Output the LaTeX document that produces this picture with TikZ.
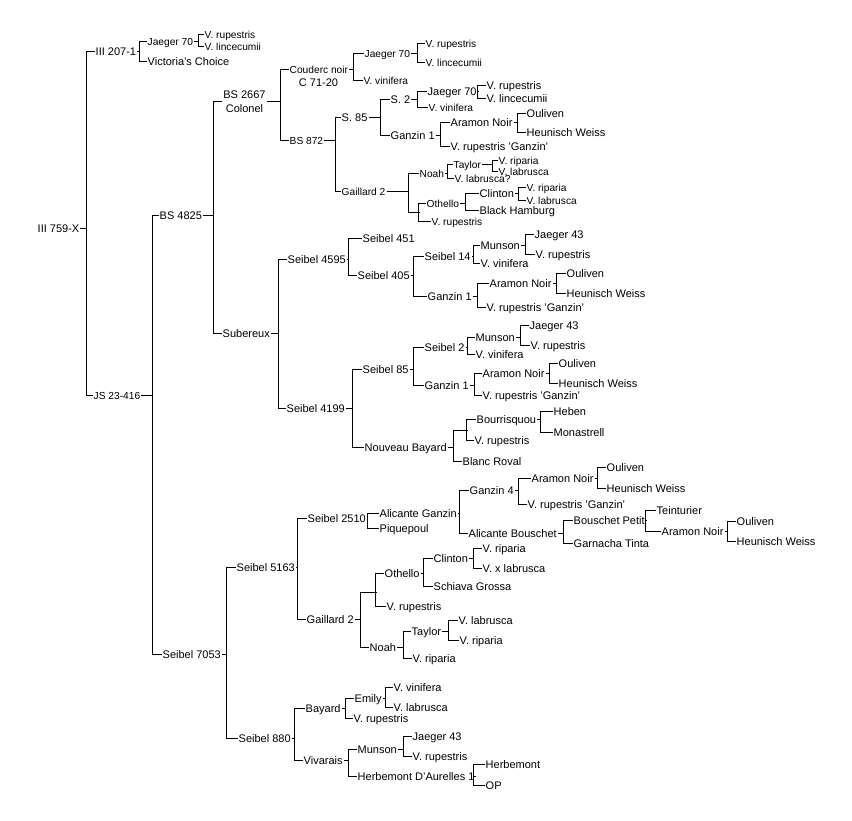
\documentclass[tikz,border=0pt]{standalone}
\usepackage{fontspec}
\setmainfont{Liberation Sans}
\usetikzlibrary{fit}
\newcommand\brk[4]{%
  \coordinate (tmpx) at (#2,0);
  \draw[ln] (#1.east) -- (#1.east -| tmpx);
  \draw[ln] (#3.west) -| (tmpx |- #1.east) |- (#4.west);
}
\tikzset{
  nn/.style={anchor=west, inner xsep=1pt, inner ysep=0pt, font=\fontsize{11}{13}\selectfont, text height=8pt, text depth=0pt},
  sm/.style={nn, font=\fontsize{10.2}{12}\selectfont, text height=7pt},
  jn/.style={inner sep=0pt, minimum size=0pt},
  ln/.style={line width=1pt, black},
}
\begin{document}
\begin{tikzpicture}[x=1pt,y=-1pt]
\fill[white] (0,0) rectangle (852,820);
\useasboundingbox (0,0) rectangle (852,820);
\begin{scope}[shift={(0.5,0.5)}]
% ---- root
\node[nn] (r) at (36,228) {III 759-X};
\node[nn] (a1) at (94,51) {III 207-1};
\node[sm] (a2) at (92,395) {JS 23-416};
\brk{r}{86}{a1}{a2}

\node[sm] (j1) at (146,41) {Jaeger 70};
\node[nn] (vc) at (146,61) {Victoria's Choice};
\brk{a1}{139}{j1}{vc}
\node[sm] (j1a) at (203,34) {V. rupestris};
\node[sm] (j1b) at (203,46) {V. lincecumii};
\brk{j1}{198}{j1a}{j1b}

\node[nn] (b4825) at (158,215) {BS 4825};
\node[nn] (s7053) at (161,654) {Seibel 7053};
\brk{a2}{152}{b4825}{s7053}

% ---- BS 4825
\node[nn,anchor=center] (bs2667a) at (244,94) {BS 2667};
\node[nn,anchor=center] (colonel) at (244,108) {Colonel};
\node[fit=(bs2667a)(colonel), inner sep=0pt] (bsc) {};
\node[nn] (sub) at (221,333) {Subereux};
\brk{b4825}{213}{bsc}{sub}

\node[sm] (cn) at (288,69) {Couderc noir};
\node[nn,anchor=center] (c7120) at (318,82) {C 71-20};
\node[sm] (bs872) at (288,140) {BS 872};
\brk{bsc}{280}{cn}{bs872}

\node[sm] (j2) at (363,53) {Jaeger 70};
\node[sm] (cnv) at (362,80) {V. vinifera};
\brk{cn}{353}{j2}{cnv}
\node[sm] (j2a) at (424,43) {V. rupestris};
\node[sm] (j2b) at (424,62) {V. lincecumii};
\brk{j2}{417}{j2a}{j2b}

\node[nn] (s85) at (340,117) {S. 85};
\node[sm] (g2a) at (340,191) {Gaillard 2};
\brk{bs872}{335}{s85}{g2a}

\node[nn] (s2) at (389,99) {S. 2};
\node[nn] (gz1a) at (389,135) {Ganzin 1};
\brk{s85}{380}{s2}{gz1a}
\node[nn] (j3) at (426,91) {Jaeger 70};
\node[sm] (s2v) at (427,107) {V. vinifera};
\brk{s2}{417}{j3}{s2v}
\node[nn] (j3a) at (485,85) {V. rupestris};
\node[nn] (j3b) at (485,98) {V. lincecumii};
\brk{j3}{477}{j3a}{j3b}
\node[nn] (an1) at (449,122) {Aramon Noir};
\node[nn] (gz1av) at (449,146) {V. rupestris 'Ganzin'};
\brk{gz1a}{440}{an1}{gz1av}
\node[nn] (an1a) at (525,113) {Ouliven};
\node[nn] (an1b) at (525,132) {Heunisch Weiss};
\brk{an1}{517}{an1a}{an1b}

\node[sm] (noa1) at (418,173) {Noah};
\node[jn] (x1) at (418,212) {};
\brk{g2a}{408}{noa1}{x1}
\node[sm] (tay1) at (452,164) {Taylor};
\node[sm] (noa1v) at (453,178) {V. labrusca?};
\brk{noa1}{447}{tay1}{noa1v}
\node[sm] (tay1a) at (497,160) {V. riparia};
\node[sm] (tay1b) at (497,171) {V. labrusca};
\brk{tay1}{492}{tay1a}{tay1b}
\node[sm] (oth1) at (425,203) {Othello};
\node[sm] (x1v) at (430,221) {V. rupestris};
\brk{x1}{418}{oth1}{x1v}
\node[nn] (cl1) at (478,193) {Clinton};
\node[nn] (bh) at (478,210) {Black Hamburg};
\brk{oth1}{465}{cl1}{bh}
\node[sm] (cl1a) at (525,187) {V. riparia};
\node[sm] (cl1b) at (525,200) {V. labrusca};
\brk{cl1}{518}{cl1a}{cl1b}

% ---- Subereux
\node[nn] (s4595) at (286,259) {Seibel 4595};
\node[nn] (s4199) at (285,408) {Seibel 4199};
\brk{sub}{278}{s4595}{s4199}

\node[nn] (s451) at (361,238) {Seibel 451};
\node[nn] (s405) at (356,275) {Seibel 405};
\brk{s4595}{348}{s451}{s405}
\node[nn] (s14) at (423,256) {Seibel 14};
\node[nn] (gz1b) at (426,296) {Ganzin 1};
\brk{s405}{413}{s14}{gz1b}
\node[nn] (mu1) at (479,245) {Munson};
\node[nn] (s14v) at (479,263) {V. vinifera};
\brk{s14}{473}{mu1}{s14v}
\node[nn] (mu1a) at (533,234) {Jaeger 43};
\node[nn] (mu1b) at (534,254) {V. rupestris};
\brk{mu1}{525}{mu1a}{mu1b}
\node[nn] (an2) at (488,283) {Aramon Noir};
\node[nn] (gz1bv) at (485,307) {V. rupestris 'Ganzin'};
\brk{gz1b}{477}{an2}{gz1bv}
\node[nn] (an2a) at (565,273) {Ouliven};
\node[nn] (an2b) at (565,293) {Heunisch Weiss};
\brk{an2}{556}{an2a}{an2b}

\node[nn] (s85b) at (361,369) {Seibel 85};
\node[nn] (nb) at (363,447) {Nouveau Bayard};
\brk{s4199}{352}{s85b}{nb}
\node[nn] (s2b) at (423,347) {Seibel 2};
\node[nn] (gz1c) at (423,385) {Ganzin 1};
\brk{s85b}{413}{s2b}{gz1c}
\node[nn] (mu2) at (474,337) {Munson};
\node[nn] (s2bv) at (474,354) {V. vinifera};
\brk{s2b}{467}{mu2}{s2bv}
\node[nn] (mu2a) at (528,325) {Jaeger 43};
\node[nn] (mu2b) at (529,345) {V. rupestris};
\brk{mu2}{520}{mu2a}{mu2b}
\node[nn] (an3) at (481,373) {Aramon Noir};
\node[nn] (gz1cv) at (481,395) {V. rupestris 'Ganzin'};
\brk{gz1c}{474}{an3}{gz1cv}
\node[nn] (an3a) at (557,363) {Ouliven};
\node[nn] (an3b) at (557,383) {Heunisch Weiss};
\brk{an3}{549}{an3a}{an3b}

\node[jn] (x2) at (466,430) {};
\node[nn] (br) at (461,461) {Blanc Roval};
\brk{nb}{453}{x2}{br}
\node[nn] (bq) at (475,419) {Bourrisquou};
\node[nn] (x2v) at (473,440) {V. rupestris};
\brk{x2}{466}{bq}{x2v}
\node[nn] (heb) at (552,411) {Heben};
\node[nn] (mon) at (552,432) {Monastrell};
\brk{bq}{540}{heb}{mon}

% ---- Seibel 7053
\node[nn] (s5163) at (235,567) {Seibel 5163};
\node[nn] (s880) at (237,738) {Seibel 880};
\brk{s7053}{226}{s5163}{s880}

\node[nn] (s2510) at (306,518) {Seibel 2510};
\node[nn] (g2b) at (305,619) {Gaillard 2};
\brk{s5163}{297}{s2510}{g2b}
\node[nn] (ag) at (378,513) {Alicante Ganzin};
\node[nn] (pq) at (378,528) {Piquepoul};
\brk{s2510}{367}{ag}{pq}
\node[nn] (gz4) at (468,490) {Ganzin 4};
\node[nn] (ab) at (467,533) {Alicante Bouschet};
\brk{ag}{459}{gz4}{ab}
\node[nn] (an4) at (530,478) {Aramon Noir};
\node[nn] (gz4v) at (526,504) {V. rupestris 'Ganzin'};
\brk{gz4}{518}{an4}{gz4v}
\node[nn] (an4a) at (605,467) {Ouliven};
\node[nn] (an4b) at (605,488) {Heunisch Weiss};
\brk{an4}{597}{an4a}{an4b}
\node[nn] (bp) at (572,520) {Bouschet Petit};
\node[nn] (gt) at (572,543) {Garnacha Tinta};
\brk{ab}{563}{bp}{gt}
\node[nn] (tei) at (655,510) {Teinturier};
\node[nn] (an5) at (660,531) {Aramon Noir};
\brk{bp}{645}{tei}{an5}
\node[nn] (an5a) at (735,521) {Ouliven};
\node[nn] (an5b) at (735,541) {Heunisch Weiss};
\brk{an5}{727}{an5a}{an5b}

\node[jn] (x3) at (375,592) {};
\node[nn] (noa2) at (368,647) {Noah};
\brk{g2b}{360}{x3}{noa2}
\node[nn] (oth2) at (383,573) {Othello};
\node[nn] (x3v) at (385,606) {V. rupestris};
\brk{x3}{375}{oth2}{x3v}
\node[nn] (cl2) at (432,558) {Clinton};
\node[nn] (sg) at (432,586) {Schiava Grossa};
\brk{oth2}{423}{cl2}{sg}
\node[nn] (cl2a) at (481,548) {V. riparia};
\node[nn] (cl2b) at (481,568) {V. x labrusca};
\brk{cl2}{473}{cl2a}{cl2b}
\node[nn] (tay2) at (410,631) {Taylor};
\node[nn] (noa2v) at (411,658) {V. riparia};
\brk{noa2}{403}{tay2}{noa2v}
\node[nn] (tay2a) at (457,620) {V. labrusca};
\node[nn] (tay2b) at (458,640) {V. riparia};
\brk{tay2}{448}{tay2a}{tay2b}

\node[nn] (bay) at (304,708) {Bayard};
\node[nn] (viv) at (302,760) {Vivarais};
\brk{s880}{294}{bay}{viv}
\node[nn] (em) at (353,698) {Emily};
\node[nn] (bayv) at (352,718) {V. rupestris};
\brk{bay}{345}{em}{bayv}
\node[nn] (ema) at (392,687) {V. vinifera};
\node[nn] (emb) at (392,707) {V. labrusca};
\brk{em}{385}{ema}{emb}
\node[nn] (mu3) at (356,749) {Munson};
\node[nn] (hda) at (356,776) {Herbemont D'Aurelles 1};
\brk{viv}{348}{mu3}{hda}
\node[nn] (mu3a) at (411,736) {Jaeger 43};
\node[nn] (mu3b) at (411,756) {V. rupestris};
\brk{mu3}{403}{mu3a}{mu3b}
\node[nn] (hb) at (484,764) {Herbemont};
\node[nn] (op) at (484,785) {OP};
\brk{hda}{473}{hb}{op}
\end{scope}
\end{tikzpicture}
\end{document}
